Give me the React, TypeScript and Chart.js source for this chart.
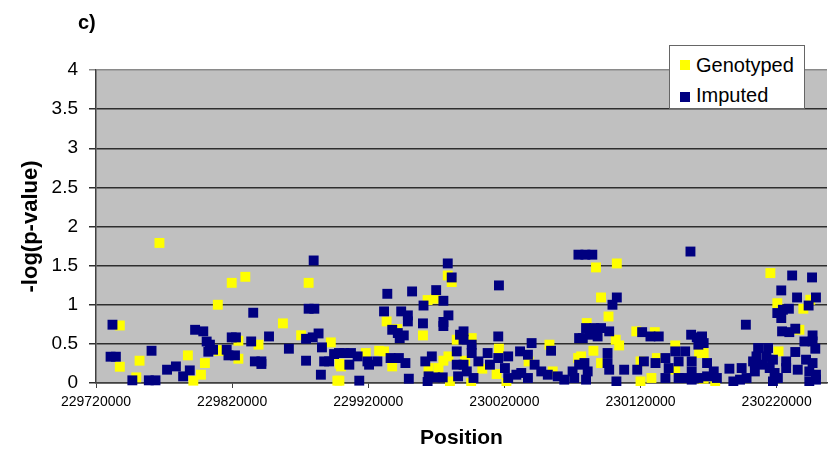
import React, { useEffect, useRef } from "react";
import { Chart, registerables } from "chart.js";

Chart.register(...registerables);

const xTickValues = [229720000, 229820000, 229920000, 230020000, 230120000, 230220000];
const xMin = 229720000;
const xMax = 230257000;
const yMin = 0;
const yMax = 4;
const yStep = 0.5;

const genotypedPos = [
  229766600, 229809500, 229737500, 229737500, 229752000, 229749600, 229787500, 229791500, 229797100, 229800000,
  229810200, 229819700, 229829700, 229876200, 229857300, 229824600, 229839400, 229870700, 229892500, 229811700,
  229824600, 229897300, 229899000, 229978400, 229981300, 229963600, 229969200, 229933500, 229960200, 229941300,
  229918200, 229928000, 229931600, 229937600, 229900000, 229898800, 229978900, 229975200, 229964300, 229971600,
  229980000, 229985000, 229996000, 229991200, 229995600, 230003800, 230016000, 230014300, 230021500, 230037800,
  230053100, 230055500, 230074200, 230087300, 230102600, 230091000, 230096500, 230080500, 230101800, 230104300,
  230085400, 230116900, 230130500, 230145500, 230091000, 230076400, 230120000, 230128000, 230120000, 230132000,
  230145500, 230163000, 230215400, 230244700, 230220500, 230239600, 230236700, 230166400, 230221400, 230166400,
  230174900,
];
const genotypedVal = [
  1.79, 1.0, 0.735, 0.208, 0.285, 0.072, 0.353, 0.03, 0.106, 0.255,
  0.41, 1.28, 1.357, 1.28, 0.762, 0.54, 0.49, 0.61, 0.519, 0.42,
  0.31, 0.03, 0.246, 1.374, 1.29, 1.06, 1.077, 0.787, 0.608, 0.69,
  0.383, 0.412, 0.404, 0.212, 0.212, 0.03, 0.34, 0.285, 0.191, 0.191,
  0.02, 0.553, 0.574, 0.285, 0.0, 0.183, 0.438, 0.115, 0.0, 0.276,
  0.49, 0.148, 0.319, 1.477, 1.528, 1.093, 0.85, 0.766, 0.553, 0.48,
  0.412, 0.66, 0.65, 0.48, 0.255, 0.34, 0.02, 0.064, 0.276, 0.319,
  0.17, 0.383, 1.405, 1.064, 1.02, 0.949, 0.68, 0.383, 0.404, 0.055,
  0.0,
];

const imputedPos = [
  229732100, 229730700, 229734600, 229760800, 229746700, 229758800, 229763700, 229772200, 229778700, 229784000,
  229788900, 229792800, 229798800, 229801300, 229803700, 229802500, 229806000, 229879900, 229835500, 229876200,
  229880400, 229819700, 229822800, 229834000, 229847100, 229874300, 229879200, 229883500, 229861700, 229886000,
  229894900, 229898500, 229816000, 229817300, 229822100, 229836700, 229841500, 229841500, 229874300, 229887600,
  229891200, 229885200, 229978400, 229981300, 229934000, 229952200, 229969900, 229960600, 229975200, 229931600,
  229944200, 229949100, 229949100, 229960200, 229978900, 229975200, 229975200, 229937600, 229941700, 229946100,
  229943100, 229902500, 229907300, 229912200, 229919400, 229926700, 229936400, 229942500, 229947300, 229906100,
  229920600, 229913400, 229949800, 229961900, 229966700, 229964300, 229969200, 229974700, 229963600, 229985000,
  229985000, 229986000, 229987400, 230074400, 230079500, 230084600, 230016000, 230015500, 230074900, 229990000,
  229990000, 229996000, 229996000, 229990000, 229992400, 229997300, 230007700, 230000900, 230015500, 230022800,
  230020400, 230022800, 230028800, 230031500, 230040000, 230037300, 230042200, 230047100, 230051900, 230059200,
  230064000, 230070100, 230071300, 230054300, 230032400, 230037300, 230009400, 230074900, 230156700, 230102600,
  230099400, 230080000, 230086100, 230091000, 230082400, 230088500, 230097000, 230077600, 230121200, 230127300,
  230133400, 230157200, 230161300, 230162500, 230145500, 230152800, 230095800, 230095800, 230097000, 230078800,
  230081200, 230080000, 230108000, 230117600, 230122500, 230131000, 230138300, 230140700, 230148000, 230157600,
  230157600, 230157600, 230138300, 230148000, 230102300, 230152800, 230162500, 230231400, 230246000, 230223400,
  230235000, 230248900, 230229000, 230224600, 230220500, 230223400, 230243500, 230197400, 230224000, 230229300,
  230233700, 230246400, 230240400, 230246400, 230248400, 230165200, 230166400, 230206400, 230213700, 230205200,
  230212500, 230217300, 230204000, 230210000, 230233700, 230227000, 230227000, 230235500, 230241600, 230246400,
  230244000, 230248900, 230244000, 230248900, 230168900, 230173800, 230176100, 230168900, 230185300, 230194300,
  230193100, 230197900, 230188200, 230202700, 230204000, 230214900, 230218500, 230217300, 230220900,
];
const imputedVal = [
  0.745, 0.336, 0.336, 0.412, 0.034, 0.034, 0.034, 0.17, 0.212, 0.085,
  0.161, 0.68, 0.66, 0.53, 0.49, 0.4, 0.425, 1.566, 0.898, 0.949,
  0.949, 0.583, 0.583, 0.531, 0.595, 0.565, 0.583, 0.633, 0.438, 0.455,
  0.37, 0.383, 0.425, 0.353, 0.353, 0.276, 0.276, 0.243, 0.285, 0.276,
  0.276, 0.106, 1.528, 1.349, 1.14, 1.17, 1.187, 0.99, 1.051, 0.915,
  0.915, 0.864, 0.787, 0.762, 0.864, 0.78, 0.728, 0.68, 0.638, 0.608,
  0.574, 0.383, 0.383, 0.34, 0.276, 0.276, 0.319, 0.319, 0.255, 0.234,
  0.234, 0.03, 0.055, 0.276, 0.34, 0.085, 0.072, 0.072, 0.013, 0.404,
  0.234, 0.085, 0.617, 1.64, 1.64, 1.64, 1.247, 0.595, 0.574, 0.66,
  0.553, 0.49, 0.383, 0.234, 0.148, 0.064, 0.383, 0.276, 0.319, 0.34,
  0.191, 0.064, 0.106, 0.404, 0.51, 0.361, 0.234, 0.148, 0.106, 0.085,
  0.043, 0.148, 0.064, 0.412, 0.128, 0.064, 0.234, 0.234, 1.68, 1.093,
  1.0, 0.702, 0.702, 0.702, 0.617, 0.595, 0.66, 0.574, 0.65, 0.595,
  0.595, 0.617, 0.583, 0.49, 0.404, 0.404, 0.383, 0.255, 0.17, 0.255,
  0.148, 0.043, 0.17, 0.17, 0.276, 0.255, 0.319, 0.191, 0.276, 0.276,
  0.148, 0.043, 0.064, 0.064, 0.02, 0.064, 0.064, 1.374, 1.349, 1.183,
  1.093, 1.093, 0.949, 0.936, 0.894, 0.83, 0.99, 0.745, 0.66, 0.65,
  0.694, 0.608, 0.531, 0.531, 0.438, 0.595, 0.51, 0.447, 0.447, 0.34,
  0.34, 0.298, 0.255, 0.234, 0.396, 0.276, 0.191, 0.17, 0.298, 0.255,
  0.148, 0.106, 0.02, 0.043, 0.255, 0.148, 0.064, 0.085, 0.183, 0.191,
  0.043, 0.064, 0.02, 0.276, 0.148, 0.191, 0.128, 0.02, 0.064,
];

const FONT = "'Liberation Sans', Arial, Helvetica, sans-serif";

const plotBg = {
  id: "plotBg",
  beforeDraw(chart: any) {
    const { ctx, chartArea } = chart;
    if (!chartArea) return;
    ctx.save();
    ctx.fillStyle = "#C0C0C0";
    ctx.fillRect(chartArea.left, chartArea.top, chartArea.right - chartArea.left, chartArea.bottom - chartArea.top);
    ctx.restore();
  },
};

function toPoints(xs: number[], ys: number[]) {
  return xs.map((x, i) => ({ x, y: ys[i] }));
}

export default function App() {
  const ref = useRef<HTMLCanvasElement | null>(null);

  useEffect(() => {
    document.body.style.margin = "0";
    const canvas = ref.current;
    if (!canvas) return;
    const chart = new Chart(canvas, {
      type: "scatter",
      data: {
        datasets: [
          {
            label: "Imputed",
            data: toPoints(imputedPos, imputedVal),
            backgroundColor: "#000080",
            borderWidth: 0,
            pointStyle: "rect",
            pointRadius: 7,
            pointHoverRadius: 7,
            clip: { left: 6, top: 6, right: 0, bottom: 3 } as any,
          },
          {
            label: "Genotyped",
            data: toPoints(genotypedPos, genotypedVal),
            backgroundColor: "#FFFF00",
            borderWidth: 0,
            pointStyle: "rect",
            pointRadius: 7,
            pointHoverRadius: 7,
            clip: { left: 6, top: 6, right: 0, bottom: 3 } as any,
          },
        ],
      },
      options: {
        responsive: false,
        animation: false,
        events: [],
        layout: { padding: { top: 70, right: 0, bottom: 0, left: 0 } },
        plugins: {
          legend: { display: false },
          tooltip: { enabled: false },
          title: { display: false },
        },
        scales: {
          x: {
            type: "linear",
            min: xMin,
            max: xMax,
            afterBuildTicks: (axis: any) => {
              axis.ticks = xTickValues.map((v) => ({ value: v }));
            },
            afterFit: (axis: any) => {
              axis.height = 68;
            },
            grid: {
              display: true,
              drawOnChartArea: false,
              drawTicks: true,
              tickLength: 5,
              color: "#404040",
              lineWidth: 1,
            },
            border: { display: true, color: "#404040", width: 1.5 },
            ticks: {
              autoSkip: false,
              maxRotation: 0,
              padding: 6,
              color: "#000",
              font: { family: FONT, size: 14 },
              callback: (v: any) => String(v),
            },
            title: {
              display: true,
              text: "Position",
              color: "#000",
              font: { family: FONT, size: 21, weight: "bold" },
              padding: { top: 0, bottom: 0 },
            },
          },
          y: {
            type: "linear",
            min: yMin,
            max: yMax,
            afterFit: (axis: any) => {
              axis.width = 96;
            },
            grid: {
              display: true,
              drawTicks: true,
              tickLength: 7,
              color: (c: any) => (c.tick && c.tick.value === yMax ? "#8a8a8a" : "#2e2e2e"),
              lineWidth: 1.5,
            },
            border: { display: true, color: "#404040", width: 1.5 },
            ticks: {
              stepSize: yStep,
              padding: 11,
              color: "#000",
              font: { family: FONT, size: 19 },
              callback: (v: any) => String(Number(v)),
            },
            title: {
              display: true,
              text: "-log(p-value)",
              color: "#000",
              font: { family: FONT, size: 22, weight: "bold" },
              padding: { top: 18, bottom: 0 },
            },
          },
        },
      },
      plugins: [plotBg],
    } as any);
    return () => {
      chart.destroy();
    };
  }, []);

  return (
    <div style={{ position: "relative", width: 834, height: 451, fontFamily: FONT, overflow: "hidden" }}>
      <canvas ref={ref} width={834} height={451} style={{ display: "block" }} />
      <div
        style={{
          position: "absolute",
          left: 78,
          top: 12,
          fontSize: 20,
          lineHeight: "20px",
          fontWeight: "bold",
          color: "#000",
          whiteSpace: "nowrap",
        }}
      >
        c)
      </div>
      <div
        style={{
          position: "absolute",
          left: 669,
          top: 45,
          width: 136,
          height: 64,
          boxSizing: "border-box",
          background: "#fff",
          border: "1px solid #666",
        }}
      />
      <div style={{ position: "absolute", left: 680, top: 60, width: 10, height: 10, background: "#FFFF00" }} />
      <div style={{ position: "absolute", left: 680, top: 92, width: 10, height: 10, background: "#000080" }} />
      <div
        style={{
          position: "absolute",
          left: 696,
          top: 55,
          fontSize: 20,
          lineHeight: "20px",
          color: "#000",
          whiteSpace: "nowrap",
        }}
      >
        Genotyped
      </div>
      <div
        style={{
          position: "absolute",
          left: 696,
          top: 85,
          fontSize: 20,
          lineHeight: "20px",
          color: "#000",
          whiteSpace: "nowrap",
        }}
      >
        Imputed
      </div>
    </div>
  );
}
